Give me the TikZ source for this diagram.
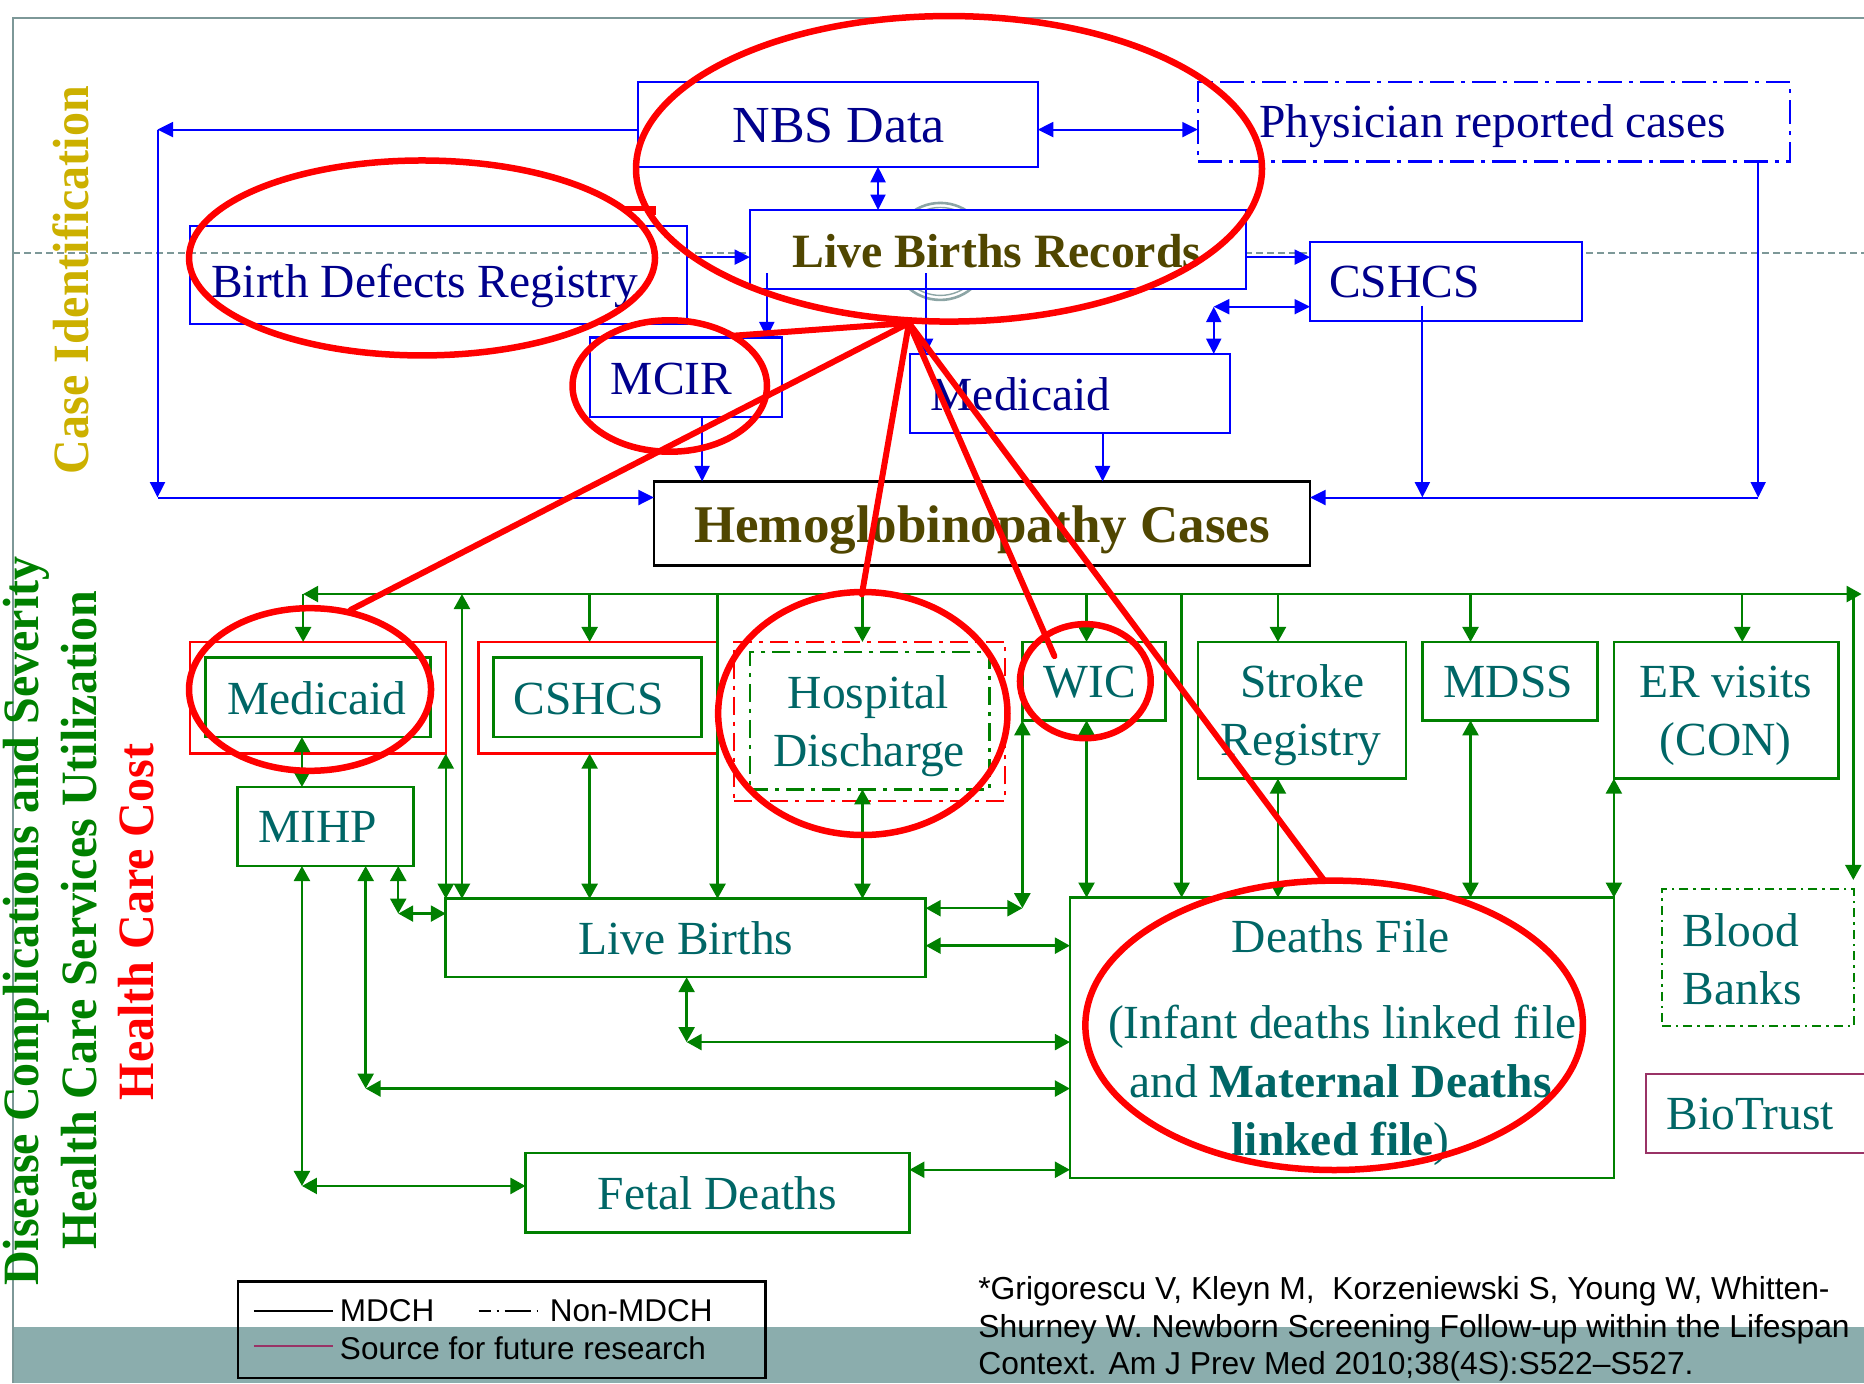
\documentclass[tikz,border=0pt]{standalone}
\usepackage{fontspec}
\usepackage{graphicx}
\setmainfont{Liberation Serif}
\newfontfamily\legfont{Liberation Sans}
\usetikzlibrary{arrows.meta,fit}
\definecolor{lblue}{RGB}{0,0,255}
\definecolor{navyt}{RGB}{0,0,140}
\definecolor{olivet}{RGB}{80,70,0}
\definecolor{tealt}{RGB}{0,102,102}
\definecolor{lgreen}{RGB}{0,128,0}
\definecolor{lred}{RGB}{255,0,0}
\definecolor{goldt}{RGB}{204,176,0}
\definecolor{maroonl}{RGB}{153,51,102}
\definecolor{frameg}{RGB}{125,152,152}
\definecolor{bandc}{RGB}{139,173,173}
\definecolor{circg}{RGB}{140,165,165}
\tikzset{
 bar/.style={draw=lblue, line width=2pt, -{Triangle[length=15.5pt,width=15pt]}},
 bdar/.style={draw=lblue, line width=2pt, {Triangle[length=15.5pt,width=15pt]}-{Triangle[length=15.5pt,width=15pt]}},
 gar/.style={draw=lgreen, line width=2.4pt, -{Triangle[length=15pt,width=16pt]}},
 gdar/.style={draw=lgreen, line width=2.4pt, {Triangle[length=15pt,width=16pt]}-{Triangle[length=15pt,width=16pt]}},
 bbox/.style={draw=lblue, line width=2.2pt, inner sep=0pt, outer sep=0pt},
 gbox/.style={draw=lgreen, line width=2.6pt, inner sep=0pt, outer sep=0pt},
 rbox/.style={draw=lred, line width=2.4pt, inner sep=0pt, outer sep=0pt},
 tx/.style={anchor=base, inner sep=0pt, outer sep=0pt, font=\fontsize{47.5}{57}\selectfont},
 btx/.style={tx, text=navyt},
 ttx/.style={tx, text=tealt},
 vl/.style={rotate=90, anchor=base, inner sep=0pt, outer sep=0pt, font=\bfseries\fontsize{48}{58}\selectfont},
 redl/.style={draw=lred, line width=6pt, line cap=round},
 rell/.style={draw=lred, line width=6.5pt},
 lg/.style={anchor=base west, inner sep=0pt, outer sep=0pt, font=\legfont\fontsize{31.5}{38}\selectfont},
 dashdotb/.style={dash pattern=on 24pt off 7pt on 4pt off 7pt},
 dashdoth/.style={dash pattern=on 18pt off 7pt on 4pt off 7pt},
 dashdotbb/.style={dash pattern=on 9pt off 5pt on 2.5pt off 5pt}
}
\begin{document}
\begin{tikzpicture}[x=1.1888pt,y=-1.1888pt]
\useasboundingbox (0,0) rectangle (1568,1163.4);
% background band, frame, separator
\fill[bandc] (11.2,1116) rectangle (1568,1163.4);
\draw[frameg, line width=2pt] (11.2,1163.4) -- (11.2,15.3) -- (1568,15.3);
\draw[frameg, line width=2pt, dash pattern=on 7pt off 4pt] (11.2,212.6) -- (1568,212.6);
% faint grey circle behind Live Births Records
\draw[circg, line width=2.6pt] (791,211.5) circle [radius=40.8];
\draw[circg, line width=1.4pt] (791,211.5) circle [radius=37];

% ---------- top section boxes ----------
\node[bbox, fit={(536.7,69) (873,140.3)}] (nbs) {};
\node[bbox, dashdotb, line width=2.4pt, fit={(1007.6,69) (1505.8,135.8)}] (phys) {};
\node[bbox, fit={(160,189.9) (577.6,272.5)}] (bdr) {};
\node[bbox, fill=white, fit={(630.9,176.7) (1047.9,243.1)}] (lbr) {};
\node[bbox, fill=white, fit={(1102,203.7) (1330.6,269.8)}] (csht) {};
\node[bbox, fit={(765.5,297.8) (1034.7,364)}] (medt) {};
\node[bbox, fit={(496.6,283.9) (657.6,350.6)}] (mcir) {};
\node[draw=black, line width=2.4pt, inner sep=0pt, outer sep=0pt, fit={(550.1,405) (1102,475.6)}] (hemo) {};

\node[btx, font=\fontsize{52}{62}\selectfont] (tnbs) at (705.5,120.2) {NBS Data};
\node[btx] (tphys) at (1255.5,115.7) {Physician reported cases};
\node[btx] (tbdr) at (357.5,249.9) {Birth Defects Registry};
\node[tx, text=olivet, font=\bfseries\fontsize{47.8}{57}\selectfont] (tlbr) at (838.6,224.9) {Live Births Records};
\node[btx] (tcsh) at (1181.5,250) {CSHCS};
\node[btx] (tmedt) at (858.4,344.9) {Medicaid};
\node[btx] (tmcir) at (565,332) {MCIR};
\node[tx, text=olivet, font=\bfseries\fontsize{53}{63}\selectfont] (themo) at (826,456.7) {Hemoglobinopathy Cases};

% ---------- top connectors ----------
\coordinate (cA) at (132.5,109);
\coordinate (cB) at (132.5,418.5);
\coordinate (cC) at (1021,258);
\coordinate (cD) at (645,230);
\coordinate (cD2) at (778.7,230);
\coordinate (cE) at (1479,418.5);
\coordinate (cF0) at (1196.5,257);
\coordinate (cF1) at (1196.5,418.5);
\draw[bar] (nbs.west |- cA) -- (cA);
\draw[bar] (cA) -- (cB);
\draw[bar] (cB) -- (hemo.west |- cB);
\draw[bdar] (nbs.east |- cA) -- (phys.west |- cA);
\draw[bdar] (nbs.south -| 738.6,0) -- (lbr.north -| 738.6,0);
\draw[bar] (bdr.east |- 0,216.3) -- (lbr.west |- 0,216.3);
\draw[bar] (lbr.east |- 0,216.3) -- (csht.west |- 0,216.3);
\draw[bdar] (cC) -- (csht.west |- cC);
\draw[bdar] (cC) -- (medt.north -| cC);
\draw[bar] (cD) -- (mcir.north -| cD);
\draw[bar] (cD2) -- (medt.north -| cD2);
\draw[bar] (mcir.south -| 590.6,0) -- (hemo.north -| 590.6,0);
\draw[bar] (medt.south -| 927.5,0) -- (hemo.north -| 927.5,0);
\draw[bar] (cF0) -- (cF1);
\draw[bar] (phys.south -| cE) -- (cE);
\draw[bar] (cE) -- (hemo.east |- cE);

% ---------- bottom section boxes ----------
\node[rbox, fit={(160,540) (375,634)}] (medr) {};
\node[gbox, fit={(173,553) (362,620)}] (medg) {};
\node[rbox, fit={(402.6,540) (603.6,634)}] (cshr) {};
\node[gbox, fit={(415,553) (590,620)}] (cshg) {};
\node[rbox, dashdoth, fit={(617.6,540) (845.6,674)}] (hospr) {};
\node[gbox, dashdoth, fit={(631,548.6) (832.5,664)}] (hospg) {};
\node[gbox, fit={(860,540) (980.5,606)}] (wic) {};
\node[gbox, fit={(1007.6,540) (1182.6,655)}] (stroke) {};
\node[gbox, fit={(1196.6,540) (1344,606)}] (mdss) {};
\node[gbox, fit={(1357.6,540) (1546.7,655)}] (er) {};
\node[gbox, fit={(200,662) (348,728.5)}] (mihp) {};
\node[gbox, fit={(375,756) (778.7,822)}] (liveb) {};
\node[gbox, fit={(900,755) (1357.6,991)}] (deaths) {};
\node[gbox, fit={(442,970) (765,1037)}] (fetal) {};
\node[gbox, dashdotbb, line width=2.4pt, fit={(1398,748) (1559.6,863)}] (blood) {};
\node[draw=maroonl, line width=2pt, inner sep=0pt, outer sep=0pt, fit={(1384.3,903.4) (1585,969.6)}] (biot) {};

\node[ttx] (tmedb) at (266.5,600.9) {Medicaid};
\node[ttx] (tcshb) at (495.3,600.9) {CSHCS};
\node[ttx] (thos1) at (730.5,596.4) {Hospital};
\node[ttx] (thos2) at (731,644.7) {Discharge};
\node[ttx] (twic) at (916.5,586.7) {WIC};
\node[ttx] (tstr1) at (1095.3,586.7) {Stroke};
\node[ttx] (tstr2) at (1094.5,635.7) {Registry};
\node[ttx] (tmdss) at (1268.8,586.7) {MDSS};
\node[ttx] (ter1) at (1451.7,586.7) {ER visits};
\node[ttx] (ter2) at (1451.6,635.7) {(CON)};
\node[ttx] (tmihp) at (267.5,708.3) {MIHP};
\node[ttx] (tlive) at (576.8,803) {Live Births};
\node[ttx] (td1) at (1127.8,801.6) {Deaths File};
\node[ttx] (td2) at (1129,873.7) {(Infant deaths linked file};
\node[ttx] (td3) at (1127.7,923.2) {and \textbf{Maternal Deaths}};
\node[ttx] (td4) at (1127.7,971.6) {\textbf{linked file})};
\node[ttx] (tfetal) at (603.3,1017) {Fetal Deaths};
\node[ttx, anchor=base west] (tbl1) at (1415.5,796) {Blood};
\node[ttx, anchor=base west] (tbl2) at (1415.5,844.6) {Banks};
\node[ttx, anchor=base west] (tbio) at (1402,950) {BioTrust};

% ---------- bottom connectors ----------
\coordinate (busL) at (255,499.7);
\coordinate (busR) at (1566,499.7);
\draw[gdar] (busL) -- (busR);
\foreach \xx/\nn in {255/medr, 496/cshr, 725.5/hospr, 914/wic, 1075/stroke, 1237/mdss, 1465.6/er, 603.6/liveb, 994/deaths}{
  \draw[gar] (\xx,499.7) -- (\nn.north -| \xx,0);
}
\coordinate (cBB) at (1559,740.2);
\draw[gar] (1559,499.7) -- (cBB);
\draw[gdar] (388.6,499.7) -- (liveb.north -| 388.6,0);
\draw[gdar] (medr.south -| 375,0) -- (liveb.north -| 375,0);
\draw[gdar] (medg.south -| 254,0) -- (mihp.north -| 254,0);
\draw[gdar] (cshr.south -| 496,0) -- (liveb.north -| 496,0);
\draw[gdar] (hospg.south -| 725.5,0) -- (liveb.north -| 725.5,0);
\coordinate (cW) at (860,764);
\draw[gdar] (wic.south -| cW) -- (cW);
\draw[gdar] (cW) -- (liveb.east |- cW);
\draw[gdar] (liveb.east |- 0,795.5) -- (deaths.west |- 0,795.5);
\draw[gdar] (wic.south -| 914,0) -- (deaths.north -| 914,0);
\draw[gdar] (stroke.south -| 1075,0) -- (deaths.north -| 1075,0);
\draw[gdar] (mdss.south -| 1237,0) -- (deaths.north -| 1237,0);
\draw[gdar] (er.south -| 1357.6,0) -- (deaths.north -| 1357.6,0);
\coordinate (cG) at (335,768.5);
\draw[gdar] (mihp.south -| cG) -- (cG);
\draw[gdar] (cG) -- (liveb.west |- cG);
\coordinate (cH) at (307.6,915.7);
\draw[gdar] (mihp.south -| cH) -- (cH);
\draw[gdar] (cH) -- (deaths.west |- cH);
\coordinate (cI) at (254,997.6);
\draw[gdar] (mihp.south -| cI) -- (cI);
\draw[gdar] (cI) -- (fetal.west |- cI);
\coordinate (cJ) at (577.6,876.6);
\draw[gdar] (liveb.south -| cJ) -- (cJ);
\draw[gdar] (cJ) -- (deaths.west |- cJ);
\draw[gdar] (fetal.east |- 0,984) -- (deaths.west |- 0,984);

% ---------- vertical labels ----------
\node[vl, text=goldt] (lcase) at (74.3,235.6) {\scalebox{1}[1.06]{Case Identification}};
\node[vl, text=lgreen] (ldis) at (32,775) {\scalebox{1}[1.06]{Disease Complications and Severity}};
\node[vl, text=lgreen] (lhcs) at (81.3,774.3) {\scalebox{1}[1.06]{Health Care Services Utilization}};
\node[vl, text=lred] (lhcc) at (129.5,775.5) {\scalebox{1}[1.06]{Health Care Cost}};

% ---------- red highlights ----------
\draw[rell] (798.3,142) ellipse [x radius=263.3, y radius=128.5];
\draw[rell] (355,217) ellipse [x radius=196, y radius=82];
\draw[rell] (563.4,324.7) ellipse [x radius=81.8, y radius=55.3];
\draw[rell] (260.8,580) ellipse [x radius=101.8, y radius=68.4];
\draw[rell] (725.8,600.2) ellipse [x radius=121.7, y radius=102.2];
\draw[rell] (913,573) ellipse [x radius=55, y radius=48];
\draw[rell] (1122.3,862.5) ellipse [x radius=209.3, y radius=121.7];
\draw[draw=lred, line width=5pt] (522.5,175.8) -- (549.5,175.8) -- (549.5,181);
\coordinate (hub) at (764.6,271.7);
\coordinate (rMcir) at (616.8,282.4);
\coordinate (rMed) at (295,513);
\coordinate (rHosp) at (725,500);
\coordinate (rWic) at (887,552);
\coordinate (rDeath) at (1114,740.8);
\foreach \pp in {rMcir, rMed, rHosp, rWic, rDeath}{
  \draw[redl] (hub) -- (\pp);
}

% ---------- legend ----------
\node[draw=black, line width=2.2pt, inner sep=0pt, outer sep=0pt, fit={(200,1078) (644,1159)}] (leg) {};
\draw[black, line width=2pt] (213.6,1102.5) -- (280,1102.5);
\node[lg] (lg1) at (286,1111.8) {MDCH};
\draw[black, line width=2pt, dash pattern=on 12pt off 6pt on 2pt off 6pt on 14pt off 0pt] (402.6,1102.5) -- (452.6,1102.5);
\node[lg] (lg2) at (462.6,1111.8) {Non-MDCH};
\draw[maroonl, line width=1.6pt] (213.6,1132.2) -- (280,1132.2);
\node[lg] (lg3) at (286,1144) {Source for future research};

% ---------- citation ----------
\node[lg, font=\legfont\fontsize{31.8}{38}\selectfont] (cit1) at (823,1093.5) {*Grigorescu V, Kleyn M,\ \ Korzeniewski S, Young W, Whitten-};
\node[lg, font=\legfont\fontsize{31.8}{38}\selectfont] (cit2) at (823,1125) {Shurney W. Newborn Screening Follow-up within the Lifespan};
\node[lg, font=\legfont\fontsize{31.8}{38}\selectfont] (cit3) at (823,1156.6) {Context. Am J Prev Med 2010;38(4S):S522–S527.};
\end{tikzpicture}
\end{document}
